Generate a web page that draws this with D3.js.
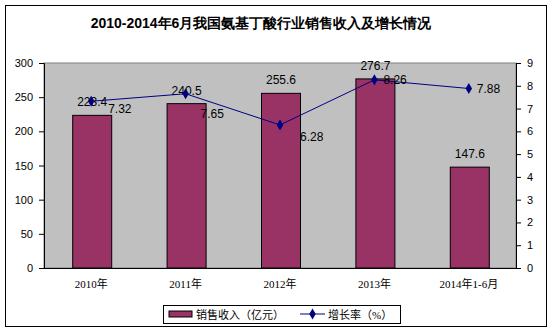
<!DOCTYPE html>
<html><head><meta charset="utf-8">
<script src="https://cdn.jsdelivr.net/npm/d3@7"></script>
<style>body{margin:0;background:#fff}svg{display:block}</style>
</head><body>
<svg id="c" width="552" height="333"></svg>
<script>
const categories = ["2010年","2011年","2012年","2013年","2014年1-6月"];
const sales = [223.4, 240.5, 255.6, 276.7, 147.6];
const growth = [7.32, 7.65, 6.28, 8.26, 7.88];
const leftTicks = [0,50,100,150,200,250,300];
const rightTicks = [0,1,2,3,4,5,6,7,8,9];
const growthLabelDx = [17, 15, 20, 9, 8];
const growthLabelDy = [8, 20, 12, 0, 0];

const svg = d3.select("#c");
const m = {l:44, r:516, t:63, b:268};
svg.append("rect").attr("x",5.5).attr("y",5.5).attr("width",541).attr("height",321)
  .attr("fill","#fff").attr("stroke","#000").attr("stroke-width",1);

svg.append("text").attr("x",261).attr("y",28).attr("text-anchor","middle")
  .attr("font-family","Liberation Sans, Arial, sans-serif").attr("font-weight","bold")
  .attr("font-size",14).text("2010-2014年6月我国氨基丁酸行业销售收入及增长情况");

const x = d3.scaleBand().domain(categories).range([m.l, m.r]).paddingInner(0).paddingOuter(0);
const yL = d3.scaleLinear().domain([0,300]).range([m.b, m.t]);
const yR = d3.scaleLinear().domain([0,9]).range([m.b, m.t]);

svg.append("rect").attr("x",m.l).attr("y",m.t).attr("width",m.r-m.l).attr("height",m.b-m.t)
  .attr("fill","#C0C0C0").attr("stroke","#808080");

const font = "Liberation Sans, Arial, sans-serif";
const la = svg.append("g").attr("transform",`translate(${m.l},0)`)
  .call(d3.axisLeft(yL).tickValues(leftTicks).tickSize(5).tickPadding(6));
const ra = svg.append("g").attr("transform",`translate(${m.r},0)`)
  .call(d3.axisRight(yR).tickValues(rightTicks).tickSize(5).tickPadding(6));
[la,ra].forEach(g=>{
  g.select(".domain").attr("stroke","#000");
  g.selectAll(".tick line").attr("stroke","#000");
  g.selectAll("text").attr("font-family",font).attr("font-size",11).attr("fill","#000");
});
const xa = svg.append("g").attr("transform",`translate(0,${m.b})`)
  .call(d3.axisBottom(x).tickSize(0).tickPadding(12));
xa.select(".domain").attr("stroke","#000");
xa.selectAll("text").attr("font-family","Liberation Serif, Noto Sans CJK SC, serif").attr("font-size",11).attr("fill","#000");

const bw = 39;
svg.selectAll(".bar").data(sales).join("rect")
  .attr("x",(d,i)=>x(categories[i])+x.bandwidth()/2-bw/2+1)
  .attr("y",d=>yL(d)).attr("width",bw).attr("height",d=>m.b-yL(d))
  .attr("fill","#993366").attr("stroke","#000");

svg.selectAll(".bl").data(sales).join("text")
  .attr("x",(d,i)=>x(categories[i])+x.bandwidth()/2+1)
  .attr("y",d=>yL(d)-9).attr("text-anchor","middle")
  .attr("font-family",font).attr("font-size",12).attr("fill","#000").text(d=>d);

const cx = (d,i)=>x(categories[i])+x.bandwidth()/2;
svg.append("path").datum(growth)
  .attr("d",d3.line().x(cx).y(d=>yR(d)))
  .attr("fill","none").attr("stroke","#000080").attr("stroke-width",1);
svg.selectAll(".pt").data(growth).join("path")
  .attr("transform",(d,i)=>`translate(${cx(d,i)},${yR(d)})`)
  .attr("d",d3.symbol(d3.symbolDiamond,36)).attr("fill","#000080");
svg.selectAll(".gl").data(growth).join("text")
  .attr("x",(d,i)=>cx(d,i)+growthLabelDx[i])
  .attr("y",(d,i)=>yR(d)+growthLabelDy[i]+4)
  .attr("font-family",font).attr("font-size",12).attr("fill","#000").text(d=>d.toFixed(2));

const lg = svg.append("g");
lg.append("rect").attr("x",163.5).attr("y",305.5).attr("width",237).attr("height",18)
  .attr("fill","#fff").attr("stroke","#000");
lg.append("rect").attr("x",169).attr("y",311).attr("width",23).attr("height",6)
  .attr("fill","#993366").attr("stroke","#000");
lg.append("text").attr("x",196).attr("y",319).attr("font-family","Liberation Serif, Noto Sans CJK SC, serif")
  .attr("font-size",11).text("销售收入（亿元）");
lg.append("line").attr("x1",300).attr("x2",325).attr("y1",314).attr("y2",314).attr("stroke","#000080");
lg.append("path").attr("transform","translate(312.5,314)").attr("d",d3.symbol(d3.symbolDiamond,36)).attr("fill","#000080");
lg.append("text").attr("x",328).attr("y",319).attr("font-family","Liberation Serif, Noto Sans CJK SC, serif")
  .attr("font-size",11).text("增长率（%）");
</script>
</body></html>
